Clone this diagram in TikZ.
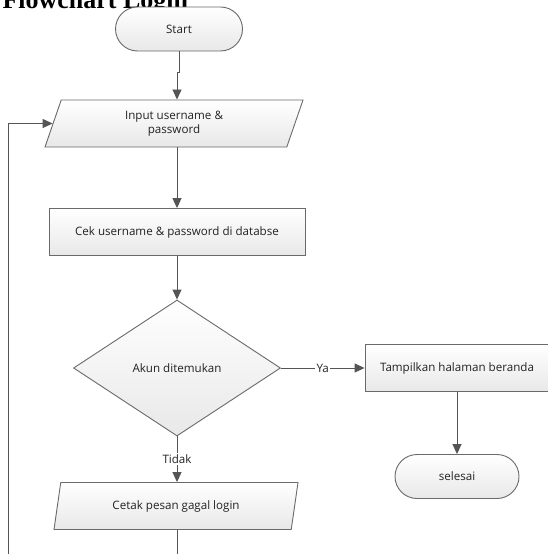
\documentclass[tikz,border=0pt]{standalone}
\usepackage{fontspec}
\setmainfont{Open Sans}
\newfontfamily\titlefont{Liberation Serif}
\usepackage{xcolor}
\usepackage{tikz}
\usetikzlibrary{shapes.geometric,arrows.meta}
\definecolor{edge}{HTML}{6A6A6A}
\definecolor{linecol}{HTML}{555555}
\definecolor{txt}{HTML}{222222}
\begin{document}
\begin{tikzpicture}[x=1pt,y=-1pt,
	font=\fontsize{11.6}{14.5}\selectfont, text=txt,
	box/.style={shape=rectangle, draw=edge, line width=0.9pt, top color=white, bottom color=black!9, minimum width=#1, minimum height=47},
	terminal/.style={shape=rectangle, rounded corners=22, draw=edge, line width=0.9pt, top color=white, bottom color=black!9, minimum width=#1, minimum height=44},
	io/.style={shape=trapezium, trapezium left angle=#1, trapezium right angle=180-#1, trapezium stretches body, draw=edge, line width=0.9pt, top color=white, bottom color=black!9, minimum height=47, align=center},
	decide/.style={shape=diamond, aspect=1.52, draw=edge, line width=0.9pt, top color=white, bottom color=black!9, minimum width=207, minimum height=136, inner sep=0},
	arr/.style={draw=linecol, line width=0.9pt, -{Triangle[length=10pt,width=9pt]}},
	lbl/.style={fill=white, inner sep=1.5pt}]
	\fill[white] (0,0) rectangle (547,554);
	\useasboundingbox (0,0) rectangle (547,554);
%	title
	\node (title) at(-1,9)[anchor=base west, font=\titlefont\bfseries\fontsize{26}{26}\selectfont, text=black]{Flowchart Login};
	\node (start) at(179,29)[terminal=127]{Start};
	\node (input) at(174,123.5)[io=63.4, minimum width=258]{Input username \&\\password};
	\node (cek) at(177,232)[box=256]{Cek username \& password di databse};
	\node (akun) at(177,368)[decide]{Akun ditemukan};
	\node (tampil) at(457,368)[box=184]{Tampilkan halaman beranda};
	\node (selesai) at(457,476.5)[terminal=124]{selesai};
	\node (cetak) at(176,506)[io=69.7, minimum width=244]{Cetak pesan gagal login};
	\coordinate (loop) at(8,575);
	\draw[arr] (start.south) -- ++(0,21) -| (input.north -| akun.north);
	\draw[arr] (input.south -| akun.north) -- (cek.north -| akun.north);
	\draw[arr] (cek.south -| akun.north) -- (akun.north);
	\draw[arr] (akun.east) -- node[lbl]{Ya} (tampil.west);
	\draw[arr] (tampil.south) -- (selesai.north);
	\draw[arr] (akun.south) -- node[lbl]{Tidak} (cetak.north -| akun.south);
	\draw[arr] (cetak.south -| akun.south) |- (loop) |- (input.west);
\end{tikzpicture}
\end{document}
